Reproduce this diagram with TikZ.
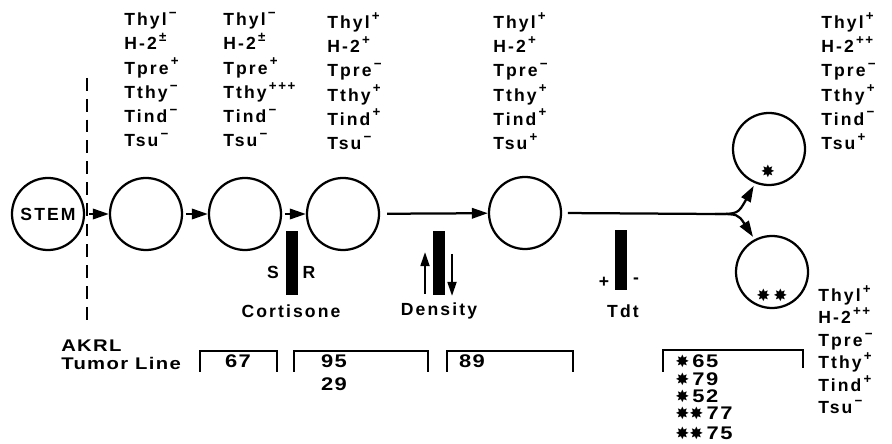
\documentclass[tikz,border=0pt]{standalone}
\usepackage{fontspec}
\setmainfont{Liberation Sans}[LetterSpace=12]
\newfontfamily\widefont{Liberation Sans}[FakeStretch=1.2, LetterSpace=8]
\newfontfamily\symfont{DejaVu Sans}
\usetikzlibrary{arrows.meta}
\newcommand{\up}[1]{\raisebox{0.9ex}{\fontsize{9.5}{9.5}\selectfont\,#1}}
\newcommand{\mystar}{{\symfont\fontsize{12}{12}\selectfont ✸}}
\newcommand{\lbl}{\bfseries\fontsize{12.5}{17.2}\selectfont}
\newcommand{\lblb}{\bfseries\fontsize{12.5}{16}\selectfont}
\newcommand{\num}{\widefont\bfseries\fontsize{13}{13}\selectfont}
\begin{document}
\begin{tikzpicture}[x=0.025cm,y=-0.025cm,
  every node/.style={inner sep=0pt, font=\lbl},
  cell/.style={circle, draw, line width=1.6pt, minimum size=1.8cm},
  bar/.style={fill=black, minimum width=0.3cm, minimum height=1.6cm},
  conn/.style={line width=1.6pt, -{Triangle[length=0.4cm,width=0.26cm]}},
  small/.style={line width=1.6pt, -{Triangle[length=0.35cm,width=0.22cm]}},
  col/.style={align=left, anchor=north west},
  colb/.style={align=left, anchor=north west, font=\lblb},
  brk/.style={line width=1.6pt},
  listitem/.style={font=\num, anchor=west, text height=9.3pt, text depth=0pt},
  dashline/.style={line width=1.6pt, dash pattern=on 0.32cm off 0.2cm}]
\useasboundingbox (0,0) rectangle (892,444);

% columns of markers
\node[col] (m1) at (124,12) {Thyl\up{−}\\H-2\up{±}\\Tpre\up{+}\\Tthy\up{−}\\Tind\up{−}\\Tsu\up{−}};
\node[col] (m2) at (223,12) {Thyl\up{−}\\H-2\up{±}\\Tpre\up{+}\\Tthy\up{+++}\\Tind\up{−}\\Tsu\up{−}};
\node[col] (m3) at (327,12) {Thyl\up{+}\\H-2\up{+}\\Tpre\up{−}\\Tthy\up{+}\\Tind\up{+}\\Tsu\up{−}};
\node[col] (m4) at (493,12) {Thyl\up{+}\\H-2\up{+}\\Tpre\up{−}\\Tthy\up{+}\\Tind\up{+}\\Tsu\up{+}};
\node[col] (m5) at (821,12) {Thyl\up{+}\\H-2\up{++}\\Tpre\up{−}\\Tthy\up{+}\\Tind\up{−}\\Tsu\up{+}};
\node[colb] (m6) at (818,285) {Thyl\up{+}\\H-2\up{++}\\Tpre\up{−}\\Tthy\up{+}\\Tind\up{+}\\Tsu\up{−}};

% dashed divider
\draw[dashline] (87,78) -- (87,322);

% cells
\node[cell] (stem) at (48,214) {STEM};
\node[cell] (c2) at (146,214) {};
\node[cell] (c3) at (245,214) {};
\node[cell] (c4) at (343,214) {};
\node[cell] (c5) at (525,213) {};
\node[cell] (c6) at (769,149) {};
\node[cell] (c7) at (772,272) {};
\node (s6) at (768,171) {\mystar};
\node (s7) at (772,295) {\mystar\hspace{2pt}\mystar};

% connectors
\draw[conn, shorten <=3pt] (stem) -- (c2);
\draw[conn, shorten <=2pt] (c2) -- (c3);
\draw[conn, shorten <=2pt] (c3) -- (c4);
\draw[conn, shorten <=5pt] (c4) -- (c5);
\coordinate (fork) at (715,214);
\draw[line width=1.6pt, shorten <=4pt] (c5.east) -- (fork);
\draw[conn, shorten >=2pt] (fork) .. controls (738,214) .. (c6.248);
\draw[conn, shorten >=2pt] (fork) .. controls (738,214) .. (c7.118);

% bars
\node[bar] (bcort) at (292,263) {};
\node[bar] (bdens) at (439,263) {};
\node[bar, minimum height=1.5cm] (btdt) at (621,260) {};
\node (lS) at (273,272) {S};
\node (lR) at (309,272) {R};
\node (lcort) at (291,311) {Cortisone};
\coordinate (dua) at (425,294);
\coordinate (dub) at (425,252);
\coordinate (dda) at (452,254);
\coordinate (ddb) at (452,296);
\draw[small] (dua) -- (dub);
\draw[small] (dda) -- (ddb);
\node (ldens) at (439,311) {Density};
\node (lplus) at (604,282) {+};
\node (lminus) at (636,281) {-};
\node (ltdt) at (623,311) {Tdt};

% tumor lines
\node[anchor=west, font=\widefont\bfseries\fontsize{12}{12}\selectfont] (akrl) at (61,346) {AKRL};
\node[anchor=west, font=\widefont\bfseries\fontsize{12}{12}\selectfont] (tline) at (61,363) {Tumor Line};
\draw[brk] (200,372) -- (200,351) -- (277,351) -- (277,372);
\draw[brk] (294,372) -- (294,351) -- (428,351) -- (428,372);
\draw[brk] (447,372) -- (447,351) -- (573,351) -- (573,372);
\draw[brk] (663,372) -- (663,350) -- (803,350) -- (803,368);
\node[font=\num] (n67) at (238,361) {67};
\node[font=\num] (n95) at (334,361) {95};
\node[font=\num] (n29) at (334,384) {29};
\node[font=\num] (n89) at (472,361) {89};
\node[listitem] (n65) at (675,361) {\mystar\,65};
\node[listitem] (n79) at (675,378.5) {\mystar\,79};
\node[listitem] (n52) at (675,396) {\mystar\,52};
\node[listitem] (n77) at (675,413) {\mystar\mystar\,77};
\node[listitem] (n75) at (675,433) {\mystar\mystar\,75};
\end{tikzpicture}
\end{document}
